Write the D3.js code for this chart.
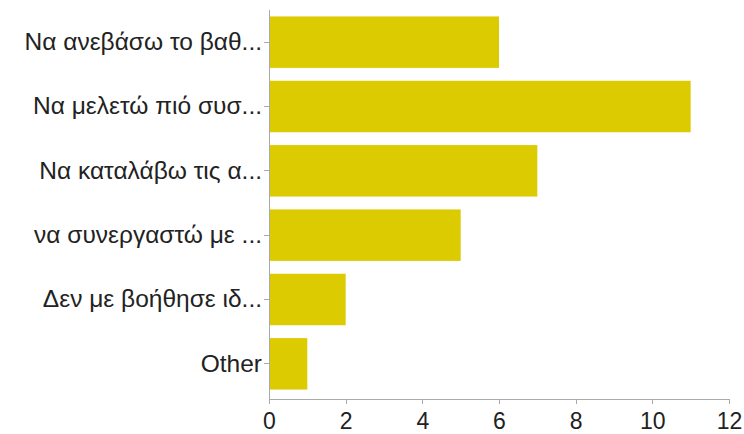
<!DOCTYPE html>
<html lang="el">
<head>
<meta charset="UTF-8">
<script src="https://d3js.org/d3.v7.min.js"></script>
<style>
    body { margin: 0; background: #fff; }
    svg { display: block; font-family: "Liberation Sans", Arial, Helvetica, sans-serif; }
    .axis path, .axis line { stroke: #aaa; shape-rendering: crispEdges; }
    .axis text { fill: #222; }
    .x-axis text { font-size: 23px; }
    .y-axis text { font-size: 24.5px; }
    .bar { fill: #DCCB00; }
</style>
</head>
<body>
<svg width="744" height="434"></svg>
<script>
    const categories = [
        "Να ανεβάσω το βαθ...",
        "Να μελετώ πιό συσ...",
        "Να καταλάβω τις α...",
        "να συνεργαστώ με ...",
        "Δεν με βοήθησε ιδ...",
        "Other"
    ];
    const counts = [6, 11, 7, 5, 2, 1];
    const xTicks = [0, 2, 4, 6, 8, 10, 12];

    const margin = { top: 10, right: 15, bottom: 35, left: 269 };
    const axisY = 399;

    const svg = d3.select("svg");

    const x = d3.scaleLinear()
        .domain([0, 12])
        .range([margin.left, 729]);

    const y = d3.scaleBand()
        .domain(categories)
        .range([margin.top, 396])
        .paddingInner(0.2)
        .paddingOuter(0.1);

    svg.selectAll(".bar")
        .data(categories)
        .enter().append("rect")
        .attr("class", "bar")
        .attr("x", x(0))
        .attr("y", d => y(d))
        .attr("width", (d, i) => x(counts[i]) - x(0))
        .attr("height", y.bandwidth());

    // bottom axis
    svg.append("g")
        .attr("class", "axis x-axis")
        .attr("transform", `translate(0,${axisY})`)
        .call(d3.axisBottom(x).tickValues(xTicks).tickSize(5).tickSizeOuter(5).tickPadding(9));

    // left axis
    const yAxis = svg.append("g")
        .attr("class", "axis y-axis")
        .attr("transform", `translate(${margin.left},0)`)
        .call(d3.axisLeft(y).tickSize(5).tickSizeOuter(0).tickPadding(2));
    yAxis.select(".domain").attr("d", `M0,${margin.top}V${axisY}`);
</script>
</body>
</html>
